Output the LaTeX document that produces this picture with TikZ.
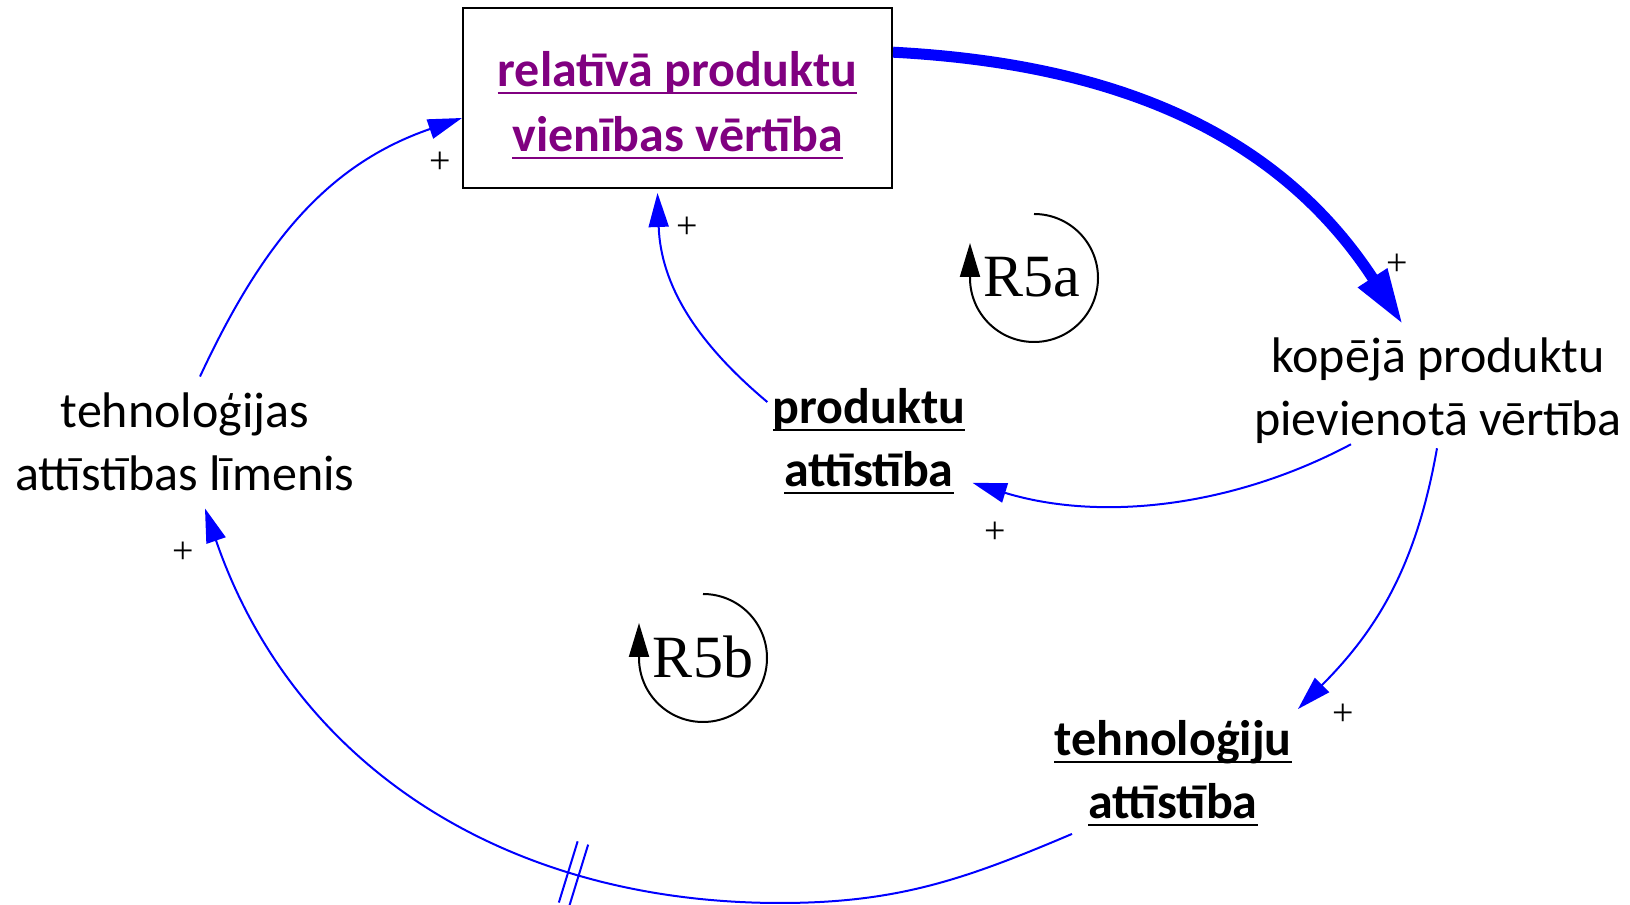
\documentclass[tikz,border=0pt]{standalone}
\usepackage{fontspec}
\setmainfont{Carlito}
\newfontfamily\loopfont{Liberation Serif}
\usetikzlibrary{arrows.meta}
\usetikzlibrary{decorations.markings}
\definecolor{levelpurple}{RGB}{128,0,128}

% underlined text with a fixed rule depth
\newsavebox{\ulinebox}
\newcommand{\undertext}[1]{\sbox{\ulinebox}{#1}\rlap{\rule[-3.5pt]{\wd\ulinebox}{1pt}}\usebox{\ulinebox}}

\tikzset{
  var/.style={inner sep=0pt, align=center, font=\fontsize{25pt}{31.5pt}\selectfont},
  boldvar/.style={var, font=\fontsize{25pt}{31.5pt}\selectfont\bfseries},
  stock/.style={draw=black, line width=1pt, minimum width=214.5pt, minimum height=90pt,
    align=center, text=levelpurple, font=\fontsize{25pt}{32.5pt}\selectfont\bfseries},
  link/.style={blue, line width=1pt, -{Triangle[length=17pt,width=10pt]}},
  biglink/.style={blue, line width=5.5pt, -{Triangle[length=28pt,width=16pt]}},
  loopline/.style={black, line width=1pt, -{Triangle[length=17pt,width=10pt]}},
  plus/.style={inner sep=0pt, font=\loopfont\fontsize{19pt}{19pt}\selectfont},
  looplabel/.style={inner sep=0pt, font=\loopfont\fontsize{30pt}{30pt}\selectfont},
  delay/.style={postaction={decorate, decoration={markings,
    mark=at position 256pt with {\draw[-, blue, line width=1pt]
      (-2.75pt,-16pt) -- (-2.75pt,16pt) (2.75pt,-16pt) -- (2.75pt,16pt);}}}}
}

\begin{document}
\begin{tikzpicture}[x=0.5pt,y=0.5pt]
    \useasboundingbox (0,0) rectangle (1630,905);

    % Variables
    \node[stock] (val) at (677.5,807) {\rule{0pt}{25pt}\undertext{relatīvā produktu}\\\undertext{vienības vērtība}};
    \node[var] (addval) at (1438,514) {kopējā produktu\\pievienotā vērtība};
    \node[var] (techlvl) at (185,463) {tehnoloģijas\\attīstības līmenis};
    \node[boldvar] (proddev) at (869,464) {\undertext{produktu}\\\undertext{attīstība}};
    \node[boldvar] (techdev) at (1173,132) {\undertext{tehnoloģiju}\\\undertext{attīstība}};

    % Links
    \draw[biglink] (val.12) to[out=-3, in=123] ([xshift=-17.5pt,yshift=6.5pt]addval.north);
    \draw[link] ([xshift=7.5pt,yshift=8pt]techlvl.north) to[out=65, in=199] ([yshift=-10pt]val.west);
    \draw[link] ([xshift=-2.5pt,yshift=-7pt]proddev.north west) to[out=140, in=-88] ([xshift=-10pt,yshift=-2pt]val.south);
    \draw[link] ([xshift=-43.5pt]addval.south) to[out=208, in=-17, looseness=0.9] ([xshift=3.5pt,yshift=5.5pt]proddev.south east);
    \draw[link] ([xshift=-0.5pt,yshift=-2pt]addval.south) to[out=-100, in=45] ([xshift=3pt,yshift=5.5pt]techdev.north east);

    % Delayed link along the bottom
    \coordinate (low) at (780,2);
    \draw[link, delay] ([xshift=9pt,yshift=-4pt]techdev.south west) to[out=203, in=0] (low)
        to[out=180, in=-71] ([xshift=10pt,yshift=-8.5pt]techlvl.south);

    % Polarity signs
    \node[plus] (plusA) at (1397,640) {+};
    \node[plus] (plusB) at (440,742) {+};
    \node[plus] (plusC) at (687,677) {+};
    \node[plus] (plusD) at (995,372) {+};
    \node[plus] (plusE) at (1343,190) {+};
    \node[plus] (plusF) at (183,352) {+};

    % Loop markers
    \coordinate (R5a) at (1034,627);
    \draw[loopline] ([yshift=32pt]R5a) arc[start angle=90, end angle=-180, radius=64] -- ++(0,35);
    \node[looplabel] (R5alabel) at (1032,628) {R5a};

    \coordinate (R5b) at (703,247);
    \draw[loopline] ([yshift=32pt]R5b) arc[start angle=90, end angle=-180, radius=64] -- ++(0,35);
    \node[looplabel] (R5blabel) at (703,248) {R5b};

\end{tikzpicture}
\end{document}
